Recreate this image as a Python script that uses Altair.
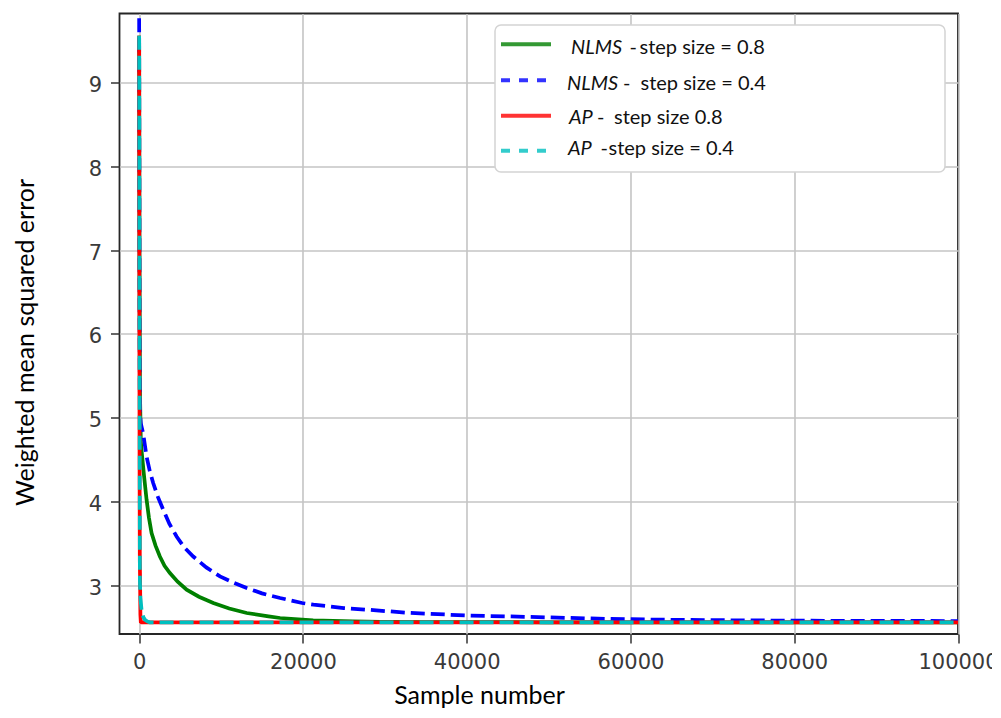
import altair as alt
import pandas as pd

# ---------------- data ----------------
nlms08_x = [0, 40, 100, 200, 300, 600, 905, 1200, 1517, 2000, 2532, 3100, 3755, 4700,
            5798, 7300, 9052, 11000, 13138, 15800, 17211, 21250, 26100, 29440, 35000,
            50000, 100000]
nlms08_y = [9.56, 7.0, 5.3, 4.72, 4.6, 4.3, 4.02, 3.8, 3.62, 3.47, 3.34, 3.23, 3.143, 3.04,
            2.944, 2.86, 2.785, 2.72, 2.666, 2.625, 2.606, 2.577, 2.566, 2.561, 2.557,
            2.555, 2.554]

nlms04_x = [0, 20, 50, 90, 200, 489, 905, 1300, 1713, 2300, 2936, 3700, 4575, 5500, 6606,
            8200, 9872, 11500, 13138, 15000, 17211, 19900, 21285, 25000, 28624, 33000,
            39800, 45000, 50170, 56000, 63900, 72000, 81060, 90000, 100000]
nlms04_y = [9.77, 8.2, 6.2, 5.05, 4.93, 4.81, 4.535, 4.36, 4.218, 4.05, 3.90, 3.73, 3.58,
            3.45, 3.34, 3.21, 3.103, 3.03, 2.964, 2.90, 2.845, 2.785, 2.765, 2.725, 2.70,
            2.667, 2.637, 2.625, 2.613, 2.598, 2.586, 2.579, 2.574, 2.571, 2.570]

ap08_x = [0, 20, 50, 80, 110, 150, 200, 300, 100000]
ap08_y = [9.56, 7.0, 4.5, 3.3, 3.1, 2.65, 2.56, 2.553, 2.553]

ap04_x = [0, 30, 60, 90, 150, 290, 500, 700, 1000, 1300, 2000, 100000]
ap04_y = [9.56, 7.0, 5.0, 3.06, 2.85, 2.705, 2.62, 2.586, 2.565, 2.554, 2.553, 2.553]

x_ticks = [0, 20000, 40000, 60000, 80000, 100000]
y_ticks = [3, 4, 5, 6, 7, 8, 9]

legend_names = ["NLMS", "NLMS", "AP", "AP"]
legend_hyph = ["-", "-", "-", "-"]
legend_rest = ["step size = 0.8", "step size = 0.4", "step size 0.8", "step size = 0.4"]

# ---------------- styles / layout ----------------
W, H = 838.5, 620.5
colors = ["#008000", "#0000ff", "#ff0000", "#00bfbf"]
dashes = [None, [14, 6], None, [14, 6]]
leg_dashes = [None, [9, 9], None, [9, 9]]
leg_line_y = [30.8, 66.8, 102.2, 137.2]
leg_base_y = [40.8, 76.5, 110.5, 141.5]
leg_name_x = [451.5, 447.5, 449.5, 448.5]
leg_hyph_x = [510.0, 503.5, 477.5, 481.0]
leg_rest_x = [520.0, 521.0, 494.5, 489.0]
FONT = "Lato"
LEG_FS = 20

xscale = alt.Scale(domain=[-2400, 100000], nice=False, zero=False)
yscale = alt.Scale(domain=[2.415, 9.826], nice=False, zero=False)

xaxis = alt.Axis(values=x_ticks, format="d", title="Sample number",
                 titleX=359.5, titleY=69, titleBaseline="alphabetic",
                 titleAlign="center", labelPadding=8.5, grid=True,
                 labelFlush=False, labelOverlap=False)
yaxis = alt.Axis(values=y_ticks, format="d", title="Weighted mean squared error",
                 titleX=-86.5, titleY=328.5, titleAngle=270, titleAlign="center",
                 titleBaseline="alphabetic", labelPadding=9, labelOffset=3, grid=True,
                 labelFlush=False, labelOverlap=False)

series = [(nlms08_x, nlms08_y), (nlms04_x, nlms04_y), (ap08_x, ap08_y), (ap04_x, ap04_y)]

layers = []
for i, (xs, ys) in enumerate(series):
    df = pd.DataFrame({"x": xs, "y": ys, "i": range(len(xs))})
    mk = dict(color=colors[i], strokeWidth=3.75, clip=True, strokeCap="butt")
    if dashes[i]:
        mk["strokeDash"] = dashes[i]
    enc = dict(x=alt.X("x:Q", scale=xscale, axis=xaxis),
               y=alt.Y("y:Q", scale=yscale, axis=yaxis),
               order="i:Q")
    layers.append(alt.Chart(df).mark_line(**mk).encode(**enc))

one = pd.DataFrame({"a": [0]})
# legend frame
layers.append(alt.Chart(one).mark_rect(fill="white", stroke="#d4d4d4", strokeWidth=1.5,
                                       cornerRadius=6, opacity=1).encode(
    x=alt.value(375.5), x2=alt.value(825.5), y=alt.value(11.5), y2=alt.value(158.5)))

for i in range(4):
    mk = dict(color=colors[i], strokeWidth=4, opacity=0.8, strokeCap="butt")
    if leg_dashes[i]:
        mk["strokeDash"] = leg_dashes[i]
    layers.append(alt.Chart(one).mark_rule(**mk).encode(
        x=alt.value(381.5), x2=alt.value(431.5), y=alt.value(leg_line_y[i])))
    for txt, px, style in [(legend_names[i], leg_name_x[i], "italic"),
                           (legend_hyph[i], leg_hyph_x[i], "normal"),
                           (legend_rest[i], leg_rest_x[i], "normal")]:
        layers.append(alt.Chart(pd.DataFrame({"t": [txt]})).mark_text(
            align="left", baseline="alphabetic", font=FONT, fontSize=LEG_FS,
            fontStyle=style, color="#111111").encode(
            x=alt.value(px), y=alt.value(leg_base_y[i]), text="t:N"))

chart = alt.layer(*layers).properties(
    width=W, height=H,
    autosize=alt.AutoSizeParams(type="none"),
    padding={"left": 111.5, "top": 5.5, "right": 34, "bottom": 76},
    background="white",
).configure_view(
    stroke="#262626", strokeWidth=1.8
).configure_axis(
    domain=False,
    gridColor="#c4c4c4", gridWidth=1.6,
    tickColor="#333333", tickWidth=1.5, tickSize=9,
    labelFont="DejaVu Sans", labelFontSize=21, labelColor="#3a3a3a",
    titleFont=FONT, titleFontSize=25, titleFontWeight="normal", titleColor="#000000",
)

chart.save("out.html", embed_options={"renderer": "svg", "actions": False})
